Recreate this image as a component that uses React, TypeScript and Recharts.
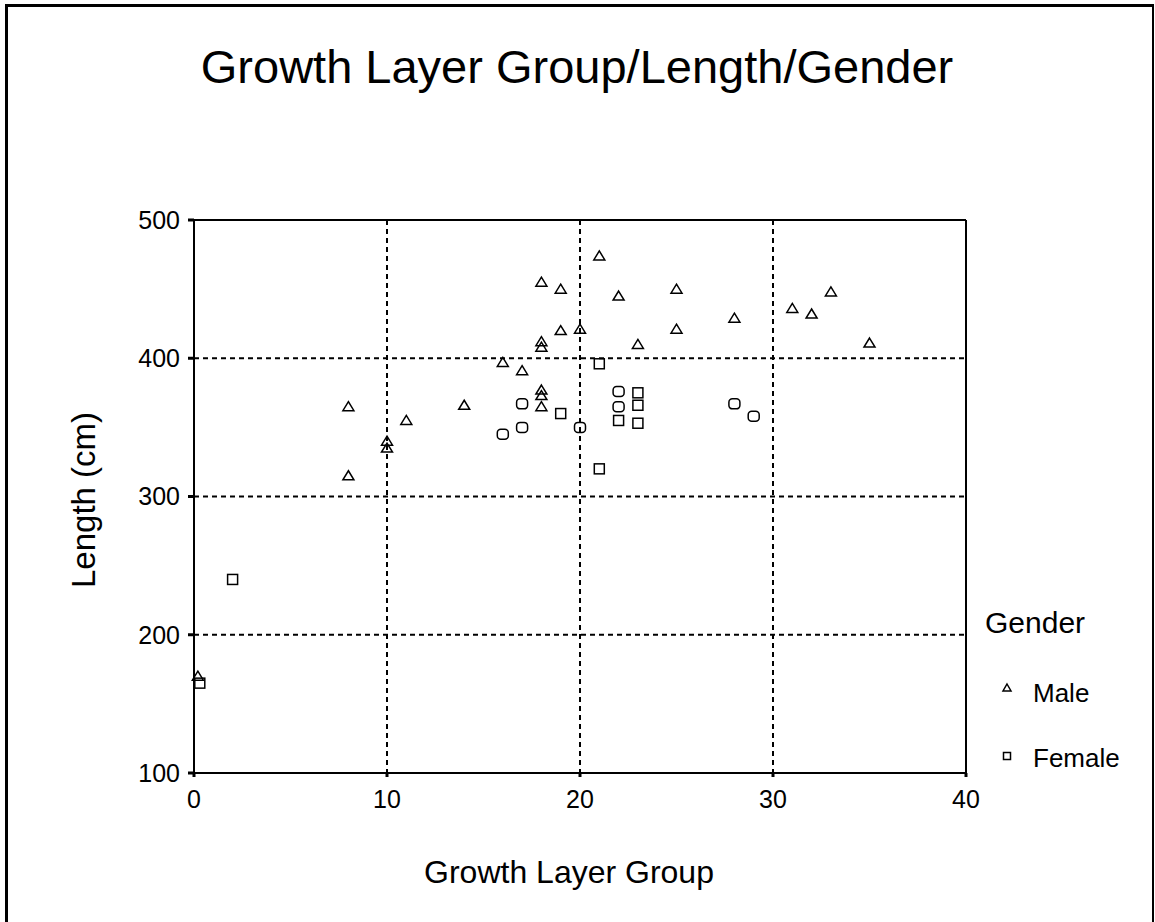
import {
  ScatterChart, Scatter, XAxis, YAxis, CartesianGrid, ReferenceLine
} from 'recharts';

// Growth layer group vs length
const maleGLG    = [0.2, 8, 8, 10, 10, 11, 14, 16, 17, 18, 18, 18, 18, 18, 18, 19, 19, 20, 21, 22, 23, 25, 25, 28, 31, 32, 33, 35];
const maleLength = [170, 365, 315, 340, 335, 355, 366, 397, 391, 455, 412, 408, 377, 373, 365, 450, 420, 421, 474, 445, 410, 450, 421, 429, 436, 432, 448, 411];

// female markers come out as plain squares or rounded ones in the source
const femaleSquareGLG    = [0.3, 2, 19, 21, 21, 22, 23, 23, 23];
const femaleSquareLength = [165, 240, 360, 396, 320, 355, 375, 366, 353];
const femaleRoundGLG     = [16, 17, 17, 20, 22, 22, 28, 29];
const femaleRoundLength  = [345, 367, 350, 350, 376, 365, 367, 358];

const xTicks = [0, 10, 20, 30, 40];
const yTicks = [100, 200, 300, 400, 500];

const zip = (xs: number[], ys: number[]) => xs.map((x, i) => ({ x, y: ys[i] }));
const male = zip(maleGLG, maleLength);
const femaleSquare = zip(femaleSquareGLG, femaleSquareLength);
const femaleRound = zip(femaleRoundGLG, femaleRoundLength);

const FONT = 'Arial, "Liberation Sans", sans-serif';

const Triangle = (p: any) => {
  const { cx, cy } = p;
  return (
    <path
      d={`M${cx},${cy - 5}L${cx + 5.5},${cy + 4}L${cx - 5.5},${cy + 4}Z`}
      fill="none" stroke="#000" strokeWidth={1.5}
    />
  );
};

const Square = (p: any) => (
  <rect x={p.cx - 5} y={p.cy - 5} width={10} height={10} fill="none" stroke="#000" strokeWidth={1.5} />
);

const RoundSquare = (p: any) => (
  <rect x={p.cx - 5.5} y={p.cy - 5} width={11} height={10} rx={3.5} fill="none" stroke="#000" strokeWidth={1.5} />
);

export default function App() {
  return (
    <div style={{ position: 'absolute', left: 0, top: 0, width: 1155, height: 922, overflow: 'hidden', background: '#fff', fontFamily: FONT }}>
      {/* outer frame, bottom edge falls outside the picture */}
      <div style={{
        position: 'absolute', left: 5, top: 4, width: 1144, height: 960,
        borderTop: '3px solid #000', borderLeft: '3px solid #000', borderRight: '2px solid #000'
      }} />

      <div style={{ position: 'absolute', left: 577, top: 43, transform: 'translateX(-50%)', fontSize: 47, lineHeight: 1, whiteSpace: 'nowrap' }}>
        Growth Layer Group/Length/Gender
      </div>

      <ScatterChart width={1155} height={922} margin={{ top: 220, right: 189, bottom: 0, left: 134 }} style={{ position: 'absolute', left: 0, top: 0 }}>
        <CartesianGrid stroke="#000" strokeWidth={2} strokeDasharray="5 4" />
        <XAxis
          type="number" dataKey="x" domain={[0, 40]} ticks={xTicks} height={149}
          stroke="#000" strokeWidth={2} tickSize={4} tickMargin={13}
          tickLine={{ stroke: '#000', strokeWidth: 3 }}
          tick={{ fontSize: 25, fill: '#000', fontFamily: FONT }}
        />
        <YAxis
          type="number" dataKey="y" domain={[100, 500]} ticks={yTicks} width={60}
          stroke="#000" strokeWidth={2} tickSize={6} tickMargin={8}
          tickLine={{ stroke: '#000', strokeWidth: 3 }}
          tick={{ fontSize: 25, fill: '#000', fontFamily: FONT }}
        />
        <ReferenceLine y={500} stroke="#000" strokeWidth={2} />
        <ReferenceLine x={40} stroke="#000" strokeWidth={2} />
        <Scatter name="Male" data={male} shape={Triangle} isAnimationActive={false} />
        <Scatter name="Female" data={femaleSquare} shape={Square} isAnimationActive={false} />
        <Scatter name="Female" data={femaleRound} shape={RoundSquare} isAnimationActive={false} />
      </ScatterChart>

      <div style={{ position: 'absolute', left: 569, top: 856, transform: 'translateX(-50%)', fontSize: 32, lineHeight: 1, whiteSpace: 'nowrap' }}>
        Growth Layer Group
      </div>
      <div style={{ position: 'absolute', left: 67, top: 588, transformOrigin: '0 0', transform: 'rotate(-90deg)', fontSize: 33, lineHeight: 1, whiteSpace: 'nowrap' }}>
        Length (cm)
      </div>

      {/* legend */}
      <div style={{ position: 'absolute', left: 985, top: 608, fontSize: 30, lineHeight: 1, whiteSpace: 'nowrap' }}>Gender</div>
      <svg style={{ position: 'absolute', left: 1000, top: 680 }} width={16} height={84}>
        <path d="M7,4L11,11L3,11Z" fill="none" stroke="#000" strokeWidth={1.5} />
        <rect x={3.5} y={72.5} width={7} height={7} fill="none" stroke="#000" strokeWidth={1.5} />
      </svg>
      <div style={{ position: 'absolute', left: 1033, top: 680, fontSize: 26, lineHeight: 1, whiteSpace: 'nowrap' }}>Male</div>
      <div style={{ position: 'absolute', left: 1033, top: 745, fontSize: 26, lineHeight: 1, whiteSpace: 'nowrap' }}>Female</div>
    </div>
  );
}
